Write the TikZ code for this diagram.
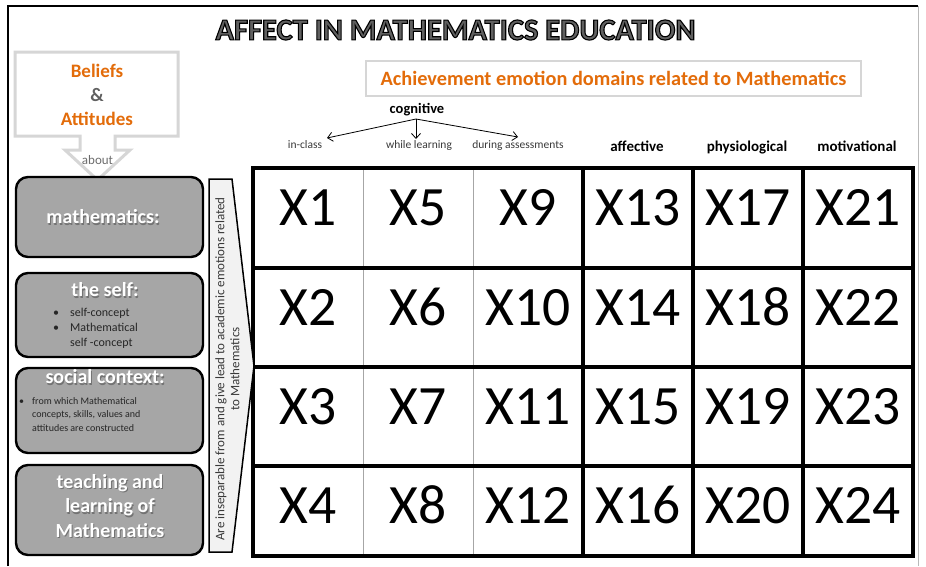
\documentclass[tikz,border=0pt]{standalone}
\usepackage{fontspec}
\setmainfont{Carlito}
\usetikzlibrary{arrows.meta}
\definecolor{orng}{HTML}{E36C0A}
\definecolor{boxgray}{HTML}{A6A6A6}
\definecolor{lgray}{HTML}{D6D6D6}
\definecolor{txtdark}{HTML}{3A3A3A}
\definecolor{titlegray}{HTML}{606060}
\definecolor{shapefill}{HTML}{F2F2F2}
\tikzset{
  titlefont/.style={font=\fontsize{30.5}{34}\selectfont\bfseries, inner sep=0pt},
  grayboxstyle/.style={draw=black, line width=2.4pt, fill=boxgray, rounded corners=12pt},
  whitehead/.style={font=\fontsize{20}{24}\selectfont\bfseries, text=white, align=center, inner sep=0pt},
  headshadow/.style={font=\fontsize{20}{24}\selectfont\bfseries, text=black!55, align=center, inner sep=0pt},
  celltext/.style={font=\fontsize{55.5}{60}\selectfont, inner sep=0pt, anchor=base},
  domainlabel/.style={font=\fontsize{15}{17}\selectfont\bfseries, text=black, inner sep=0pt, anchor=base},
  sublabel/.style={font=\fontsize{11.5}{13}\selectfont, text=txtdark, inner sep=0pt, anchor=base},
  cogarrow/.style={line width=0.8pt, -{Straight Barb[length=5pt,width=9pt]}},
  thickline/.style={line width=3.6pt, line cap=rect},
  thinline/.style={line width=0.8pt, draw=gray!70},
}
\newcommand{\outlinedtext}[1]{\special{pdf:literal direct 0 0 0 RG 1.1 w 2 Tr}#1\special{pdf:literal direct 0 Tr}}
\begin{document}
\begin{tikzpicture}[x=1pt,y=-1pt]
\useasboundingbox (0,0) rectangle (926,566);
\fill[white] (0,0) rectangle (926,566);
% frame
\draw[line width=2pt] (8,566) -- (8,6) -- (918,6);
\draw[gray!55, line width=1pt] (918,6) -- (918,566);
% title
\node[titlefont, text=titlegray] (title) at (455.5,30) {\outlinedtext{AFFECT IN MATHEMATICS EDUCATION}};
% beliefs callout
\draw[lgray, line width=3pt, fill=white, line join=miter]
  (15,52) -- (178,52) -- (178,136) -- (115,136) -- (115,150) -- (130,150) -- (97.5,180)
  -- (65,150) -- (80,150) -- (80,136) -- (15,136) -- cycle;
\node[font=\fontsize{19}{22}\selectfont\bfseries, text=orng, inner sep=0pt] (beliefs) at (97,71) {Beliefs};
\node[font=\fontsize{19}{22}\selectfont\bfseries, text=gray!75!black, inner sep=0pt] (amp) at (97,95) {\&};
\node[font=\fontsize{19}{22}\selectfont\bfseries, text=orng, inner sep=0pt] (attitudes) at (97,119) {Attitudes};
\node[font=\fontsize{13}{15}\selectfont, text=gray!85!black, inner sep=0pt] (about) at (97.5,160) {about};
% achievement box
\node[draw=lgray, line width=1.5pt, minimum width=495pt, minimum height=35pt, inner sep=0pt,
  font=\fontsize{20.3}{22}\selectfont\bfseries, text=orng] (ach) at (613.5,78.5) {Achievement emotion domains related to Mathematics};
% cognitive
\node[font=\fontsize{14.5}{17}\selectfont\bfseries, inner sep=0pt, anchor=base] (cog) at (417,113) {cognitive};
\coordinate (cogroot) at (416,119);
\coordinate (tipA) at (327,138);
\coordinate (tipB) at (416,139);
\coordinate (tipC) at (518,137);
\draw[cogarrow] (cogroot) -- (tipA);
\draw[cogarrow] (cogroot) -- (tipB);
\draw[cogarrow] (cogroot) -- (tipC);
\node[sublabel] (inclass) at (305,148) {in-class};
\node[sublabel] (whilel) at (419,148) {while learning};
\node[sublabel] (during) at (518,148) {during assessments};
\node[domainlabel] (affective) at (637,151) {affective};
\node[domainlabel] (physio) at (747,151) {physiological};
\node[domainlabel] (motiv) at (857,151) {motivational};
% grid
\fill[white] (253,168) rectangle (913,556);
\draw[thinline] (363,168) -- (363,556);
\draw[thinline] (473,168) -- (473,556);
\foreach \yy in {168,268,367,466,556}
  \draw[thickline] (253,\yy) -- (913,\yy);
\foreach \xx in {253,583,693,803,913}
  \draw[thickline] (\xx,168) -- (\xx,556);
\foreach \col in {0,...,5}{
  \foreach \row/\ty in {1/225,2/325,3/424,4/523}{
    \pgfmathtruncatemacro{\num}{\col*4+\row}
    \node[celltext] (cell\num) at (308+\col*110,\ty) {X\num};
  }
}
% vertical shape
\draw[line width=1.5pt, fill=shapefill, line join=miter]
  (209,179) -- (232,179) -- (254,366) -- (232,552) -- (209,552) -- cycle;
\node[rotate=90, font=\fontsize{13}{15}\selectfont, text=txtdark, align=center, inner sep=0pt] (insep) at (227.5,369)
  {Are inseparable from and give lead to academic emotions related\\to Mathematics};
% left boxes
\draw[grayboxstyle] (16,177) rectangle (203,257);
\node[headshadow] (mathS) at (104,218.2) {mathematics:};
\node[whitehead] (mathT) at (103,217) {mathematics:};

\draw[grayboxstyle] (16,273) rectangle (203,357);
\node[headshadow] (selfS) at (106,291.2) {the self:};
\node[whitehead] (selfT) at (105,290) {the self:};
\node[anchor=west, align=left, font=\fontsize{12}{15}\selectfont, text=black!85, inner sep=0pt] (selfitems) at (70,328)
  {\llap{\textbullet\hspace{11pt}}self-concept\\\llap{\textbullet\hspace{11pt}}Mathematical\\self -concept};

\draw[grayboxstyle] (16,368) rectangle (203,453);
\node[headshadow] (socS) at (106,378.2) {social context:};
\node[whitehead] (socT) at (105,377) {social context:};
\node[anchor=west, align=left, font=\fontsize{10}{13.5}\selectfont, text=black!85, inner sep=0pt] (socitems) at (32,414.5)
  {\llap{\textbullet\hspace{8pt}}from which Mathematical\\concepts, skills, values and\\attitudes are constructed};

\draw[grayboxstyle] (16,465) rectangle (203,555);
\node[headshadow, font=\fontsize{20}{24.5}\selectfont\bfseries] (teachS) at (111,507.2) {teaching and\\learning of\\Mathematics};
\node[whitehead, font=\fontsize{20}{24.5}\selectfont\bfseries] (teachT) at (110,506) {teaching and\\learning of\\Mathematics};
\end{tikzpicture}
\end{document}
